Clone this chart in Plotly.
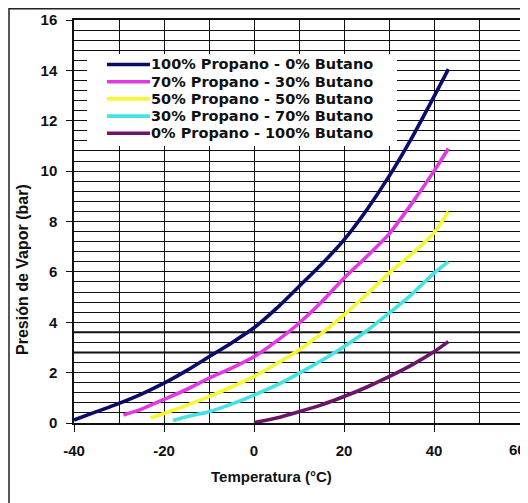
import plotly.graph_objects as go

# ---- data ----
series_names = [
    "100% Propano - 0% Butano",
    "70% Propano - 30% Butano",
    "50% Propano - 50% Butano",
    "30% Propano - 70% Butano",
    "0% Propano - 100% Butano",
]
series_colors = ["#0b0b6b", "#e23ae2", "#f7f733", "#45e3e6", "#6b156b"]

t_p100 = [-40, -35, -30, -25, -20, -15, -10, -5, 0, 5, 10, 15, 20, 25, 30, 35, 40, 43.2]
p_p100 = [0.12, 0.45, 0.78, 1.15, 1.58, 2.08, 2.63, 3.18, 3.78, 4.55, 5.42, 6.3, 7.27, 8.45, 9.79, 11.3, 12.96, 14.05]

t_p70 = [-29, -25, -20, -15, -10, -5, 0, 5, 10, 15, 20, 25, 30, 35, 40, 43.2]
p_p70 = [0.32, 0.55, 0.94, 1.33, 1.78, 2.18, 2.63, 3.25, 3.96, 4.8, 5.75, 6.6, 7.5, 8.7, 10.0, 10.9]

t_p50 = [-23, -20, -15, -10, -5, 0, 5, 10, 15, 20, 25, 30, 35, 40, 43.2]
p_p50 = [0.2, 0.38, 0.7, 1.05, 1.43, 1.84, 2.35, 2.9, 3.55, 4.29, 5.1, 5.95, 6.7, 7.55, 8.4]

t_p30 = [-18, -15, -10, -5, 0, 5, 10, 15, 20, 25, 30, 35, 40, 43.2]
p_p30 = [0.1, 0.25, 0.45, 0.75, 1.11, 1.5, 1.97, 2.48, 3.03, 3.65, 4.36, 5.1, 5.95, 6.41]

t_p0 = [0, 5, 10, 15, 20, 25, 30, 35, 40, 43.2]
p_p0 = [0.02, 0.2, 0.45, 0.72, 1.05, 1.42, 1.84, 2.3, 2.83, 3.23]

x_ticks = [-40, -20, 0, 20, 40, 60]
y_ticks = [0, 2, 4, 6, 8, 10, 12, 14, 16]

xs = [t_p100, t_p70, t_p50, t_p30, t_p0]
ys = [p_p100, p_p70, p_p50, p_p30, p_p0]

# ---- layout geometry ----
# page body has an 8px margin, so the figure is 520x495 placed at (8, 8)
OFF = 8
W, H = 520, 495
L, R, T, B = 66, 4, 12, 80
PW, PH = W - L - R, H - T - B


def px(x):  # screen x (reference pixels) -> paper
    return (x - OFF - L) / PW


def py(y):  # screen y (reference pixels) -> paper
    return (H - B - (y - OFF)) / PH


FONT = "Arial, Liberation Sans, sans-serif"
LEGFONT = "DejaVu Sans, Verdana, sans-serif"

fig = go.Figure()
for name, col, x, y in zip(series_names, series_colors, xs, ys):
    fig.add_trace(go.Scatter(x=x, y=y, mode="lines", name=name,
                             line=dict(color=col, width=3.6, shape="spline", smoothing=0.6),
                             showlegend=False))

shapes = []
annotations = []

# outer frame of the figure (top-left corner visible)
shapes.append(dict(type="rect", xref="paper", yref="paper",
                   x0=px(9), x1=px(560), y0=py(540), y1=py(8.8),
                   line=dict(color="#222", width=1.5), fillcolor="rgba(0,0,0,0)", layer="above"))

# a couple of thicker grid lines as in the scan
for yv in [3.6, 2.8]:
    shapes.append(dict(type="line", xref="paper", yref="y", x0=0, x1=1, y0=yv, y1=yv,
                       line=dict(color="#111", width=2.0), layer="below"))

# legend box (manual, to match row spacing)
shapes.append(dict(type="rect", xref="paper", yref="paper",
                   x0=px(87), x1=px(397), y0=py(146), y1=py(54),
                   line=dict(width=0), fillcolor="white", layer="above"))
for i, (name, col) in enumerate(zip(series_names, series_colors)):
    yy = 64.5 + 17.2 * i
    shapes.append(dict(type="line", xref="paper", yref="paper",
                       x0=px(107), x1=px(150), y0=py(yy), y1=py(yy),
                       line=dict(color=col, width=3.6), layer="above"))
    annotations.append(dict(text=name, xref="paper", yref="paper", x=px(150), y=py(yy),
                            xanchor="left", yanchor="middle", showarrow=False,
                            borderpad=0,
                            font=dict(family=LEGFONT, size=14.5, color="#111", weight="bold")))

# last x tick label sits at the right edge; keep it fully inside the canvas
x_ticktext = [str(v) for v in x_ticks]
last_label = x_ticktext[-1]
x_ticktext[-1] = ""
annotations.append(dict(text=last_label, xref="paper", yref="paper",
                        x=px(527), y=py(449), xanchor="right", yanchor="middle", showarrow=False,
                        borderpad=0,
                        font=dict(family=FONT, size=15, color="#111", weight="bold")))

# axis titles
annotations.append(dict(text="Temperatura (°C)", xref="paper", yref="paper",
                        x=px(271), y=py(476), xanchor="center", yanchor="middle", showarrow=False,
                        font=dict(family=FONT, size=15, color="#111", weight="bold")))
annotations.append(dict(text="Presión de Vapor (bar)", xref="paper", yref="paper",
                        x=px(22), y=py(270), xanchor="center", yanchor="middle", showarrow=False,
                        textangle=-90,
                        font=dict(family=FONT, size=16, color="#111", weight="bold")))

fig.update_layout(
    width=W, height=H,
    margin=dict(l=L, r=R, t=T, b=B, pad=0),
    paper_bgcolor="white", plot_bgcolor="white",
    showlegend=False,
    shapes=shapes, annotations=annotations,
    xaxis=dict(range=[-40, 60], tickvals=x_ticks, ticktext=x_ticktext,
               automargin=False, ticklabeloverflow="allow",
               showgrid=True, gridcolor="#111", gridwidth=1.3,
               minor=dict(dtick=10, tick0=0, showgrid=True, gridcolor="#111", gridwidth=1.3),
               ticks="outside", ticklen=7, tickwidth=1.3, tickcolor="#111",
               showline=True, linecolor="#111", linewidth=1.5, mirror=True,
               zeroline=False, ticklabelstandoff=6,
               tickfont=dict(family=FONT, size=15, color="#111", weight="bold")),
    yaxis=dict(range=[0, 16], tickvals=y_ticks, ticktext=[str(v) for v in y_ticks],
               automargin=False, ticklabeloverflow="allow",
               showgrid=True, gridcolor="#111", gridwidth=1.3,
               minor=dict(dtick=0.4, tick0=0, showgrid=True, gridcolor="#111", gridwidth=1.2),
               ticks="outside", ticklen=6, tickwidth=1.3, tickcolor="#111",
               showline=True, linecolor="#111", linewidth=1.5, mirror=True,
               zeroline=False, ticklabelstandoff=6,
               tickfont=dict(family=FONT, size=15, color="#111", weight="bold")),
)

fig.write_html("out.html")
